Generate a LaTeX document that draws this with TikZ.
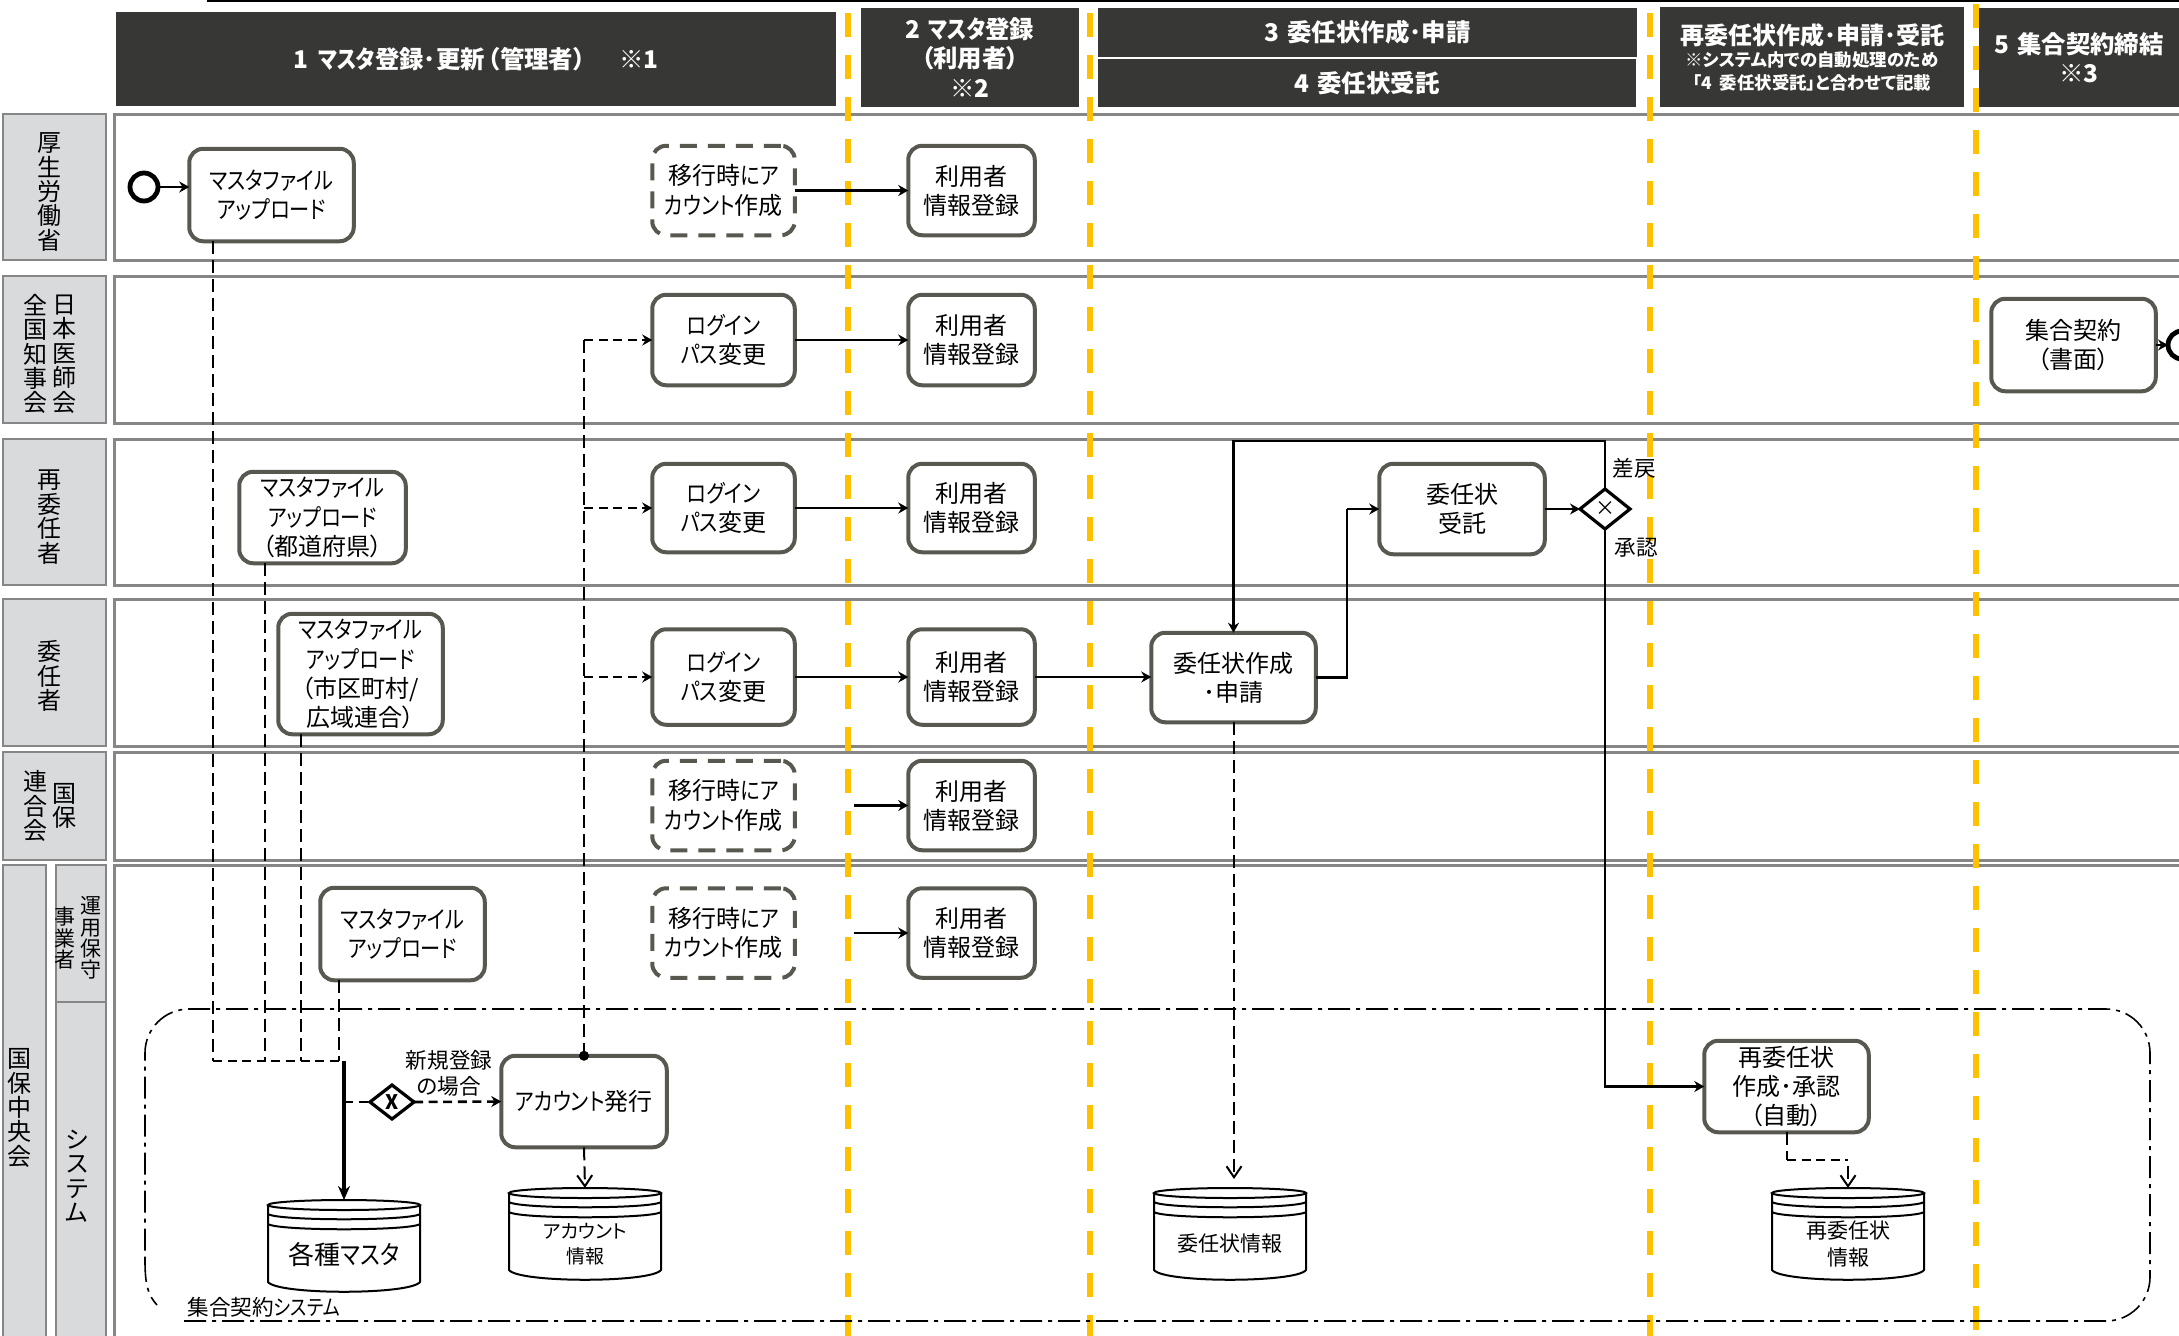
\documentclass[tikz,border=0pt]{standalone}
\usepackage{fontspec}
\setmainfont{Noto Sans CJK JP}[RawFeature={+palt}]
\newfontfamily\kn{Noto Sans CJK JP}[RawFeature={+palt},FakeStretch=0.84]
\newcommand\K[1]{{\kn #1}}
\usetikzlibrary{arrows.meta,shapes.geometric}
\newcommand\fs[2]{\fontsize{#1}{#2}\selectfont\lineskiplimit=-30pt\relax}
\definecolor{hdr}{HTML}{373735}
\definecolor{lanegray}{HTML}{868686}
\definecolor{lanefill}{HTML}{D9DADC}
\definecolor{boxline}{HTML}{595850}
\definecolor{ylw}{HTML}{FFC000}
\tikzset{
  x=0.5pt,y=-0.5pt,
  hd/.style={fill=hdr,draw=none,text=white,font=\fs{12.2}{14.6}\bfseries,align=center,inner sep=0pt,outer sep=0pt},
  hdt/.style={text=white,align=center,inner sep=0pt,outer sep=0pt},
  lane/.style={draw=lanegray,line width=1.5pt,fill=white},
  lanelbl/.style={draw=lanegray,line width=1.3pt,fill=lanefill},
  vt/.style={align=center,inner sep=0pt,font=\fs{12}{12.2}},
  vts/.style={align=center,inner sep=0pt,font=\fs{10.5}{10.6}},
  yl/.style={draw=ylw,line width=2.8pt,dash pattern=on 12pt off 9pt},
  task/.style={draw=boxline,line width=2pt,rounded corners=7pt,fill=white,align=center,inner sep=0pt,outer sep=0pt,font=\fs{12}{14.6}},
  taskd/.style={task,dash pattern=on 8.5pt off 5.5pt},
  evt/.style={circle,draw=black,line width=2.4pt,fill=white,minimum size=14pt,inner sep=0pt,outer sep=0pt},
  gate/.style={diamond,draw=black,line width=1.6pt,fill=white,inner sep=0pt,outer sep=0pt},
  flow/.style={draw=black,line width=1.2pt,-{Stealth[length=5pt,width=5.5pt]}},
  flown/.style={draw=black,line width=1.2pt},
  dv/.style={draw=black,line width=1pt,dash pattern=on 6.5pt off 3pt},
  dh/.style={draw=black,line width=1.3pt,dash pattern=on 4.5pt off 2.8pt},
  dhead/.style={-{Stealth[length=5pt,width=5.5pt]}},
  dopen/.style={-{Straight Barb[length=5.5pt,width=7.5pt]}},
  syst/.style={draw=black,line width=.8pt,dash pattern=on 11pt off 3pt on 2pt off 3pt},
  cylline/.style={draw=black,line width=1pt},
  cylbox/.style={draw=none,inner sep=0pt,outer sep=0pt,minimum width=76pt,minimum height=46pt},
  txt/.style={align=center,inner sep=0pt,font=\fs{10.8}{13}},
}
\newcommand\tb[7]{\node[#1,minimum width={(#5-0.5)*0.5pt},minimum height={(#6-1.5)*0.5pt}] (#2) at (#3,#4) {#7};}
\newcommand\hb[6]{\node[hd,minimum width={#4*0.5pt},minimum height={#5*0.5pt}] (#1) at (#2,#3) {#6};}
\newcommand\cyl[6]{%
  \begin{scope}[shift={(#2,#3)}]
    \node[cylbox] (#1) at (76,46) {};
    \draw[cylline] (0,5) -- (0,82) .. controls (10,95) and (142,95) .. (152,82) -- (152,5);
    \draw[cylline] (76,5) ellipse [x radius=76,y radius=5];
    \draw[cylline] (0,14) .. controls (10,21) and (142,21) .. (152,14);
    \draw[cylline] (0,24) .. controls (10,31) and (142,31) .. (152,24);
    \node[txt,font=#5] (#1t) at (76,#4) {#6};
  \end{scope}}
\begin{document}
\begin{tikzpicture}
\useasboundingbox (0,0) rectangle (2179,1335);
\clip (0,0) rectangle (2179,1335);
% top line
\draw[black,line width=1pt] (207,1) -- (2179,1);
% lanes
\draw[lane] (114,114) rectangle (2200,260);
\draw[lane] (114,276) rectangle (2200,423);
\draw[lane] (114,439) rectangle (2200,585);
\draw[lane] (114,599) rectangle (2200,746);
\draw[lane] (114,752) rectangle (2200,860);
\draw[lane] (114,865) rectangle (2200,1345);
\draw[lanelbl] (3,114) rectangle (106,260);
\draw[lanelbl] (3,276) rectangle (106,423);
\draw[lanelbl] (3,439) rectangle (106,585);
\draw[lanelbl] (3,599) rectangle (106,746);
\draw[lanelbl] (3,752) rectangle (106,860);
\draw[lanelbl] (3,865) rectangle (46,1345);
\draw[lanelbl] (56,865) rectangle (106,1002);
\draw[lanelbl] (56,1002) rectangle (106,1345);
% lane labels
\node[vt] (ln1) at (50,192) {厚\\生\\労\\働\\省};
\node[vt] (ln2a) at (65,354) {日\\本\\医\\師\\会};
\node[vt] (ln2b) at (36,354) {全\\国\\知\\事\\会};
\node[vt] (ln3) at (50,517) {再\\委\\任\\者};
\node[vt] (ln4) at (50,676) {委\\任\\者};
\node[vt] (ln5a) at (65,806) {国\\保};
\node[vt] (ln5b) at (36,806) {連\\合\\会};
\node[vt] (ln6) at (20,1108) {国\\保\\中\\央\\会};
\node[vts] (ln7a) at (91,938) {運\\用\\保\\守};
\node[vts] (ln7b) at (65,938) {事\\業\\者};
\node[vt] (ln8) at (77,1176) {シ\\ス\\テ\\ム};
% yellow phase lines
\draw[yl] (848,13) -- (848,1340);
\draw[yl] (1090,13) -- (1090,1340);
\draw[yl] (1650,13) -- (1650,1340);
\draw[yl] (1976,4) -- (1976,1340);
% headers
\hb{h1}{476}{59}{720}{94}{1\hspace{5pt}\K{マスタ}登録･更新\hspace{1.5pt}（管理者）\hspace{17pt}※1}
\hb{h2}{970}{57.5}{218}{99}{2\hspace{4pt}\K{マスタ}登録\\（利用者）\\※2}
\hb{h3}{1367.5}{32.5}{539}{49}{3\hspace{4pt}委任状作成･申請}
\hb{h4}{1367}{83}{538}{48}{4\hspace{4pt}委任状受託}
\hb{h5}{1812}{57}{304}{100}{}
\node[hdt,font=\fs{12}{14}\bfseries] (h5a) at (1812,35) {再委任状作成･申請･受託};
\node[hdt,font=\fs{8.7}{11}\bfseries] (h5b) at (1812,60) {※システム内での自動処理のため};
\node[hdt,font=\fs{8.7}{11}\bfseries] (h5c) at (1812,83) {「4\hspace{4pt}委任状受託」と合わせて記載};
\hb{h6}{2079}{57.5}{200}{99}{5\hspace{4pt}集合契約締結\\※3}
% system boundary
\draw[syst,rounded corners=22pt] (184,1321) -- (2150,1321) -- (2150,1009) -- (145,1009) -- (145,1260);
\draw[syst] (145,1260) .. controls (145,1285) and (148,1295) .. (157,1305);
\node[txt,anchor=west] (sys) at (187,1307) {集合契約\K{システム}};
% tasks
\tb{task}{m1}{271.5}{195}{165}{94}{\K{マスタファイル}\\\K{アップロード}}
\tb{taskd}{p1}{723.5}{190.5}{143}{91}{移行時\K{にア}\\\K{カウント}作成}
\tb{task}{u1}{971.5}{190.5}{127}{91}{利用者\\情報登録}
\tb{task}{l2}{723.5}{340}{143}{92}{\K{ログイン}\\\K{パス}変更}
\tb{task}{u2}{971.5}{340}{127}{92}{利用者\\情報登録}
\tb{task}{kei}{2073.5}{345}{165}{94}{集合契約\\（書面）}
\tb{task}{l3}{723.5}{508}{143}{90}{\K{ログイン}\\\K{パス}変更}
\tb{task}{u3}{971.5}{508}{127}{90}{利用者\\情報登録}
\tb{task}{m3}{322.5}{517.5}{167}{93}{\K{マスタファイル}\\\K{アップロード}\\（都道府県）}
\tb{task}{ju}{1462}{509}{166}{92}{委任状\\受託}
\tb{task}{m4}{360.5}{674}{165}{122}{\K{マスタファイル}\\\K{アップロード}\\（市区町村/\\広域連合）}
\tb{task}{l4}{723.5}{677}{143}{97}{\K{ログイン}\\\K{パス}変更}
\tb{task}{u4}{971.5}{677}{127}{97}{利用者\\情報登録}
\tb{task}{app}{1233.5}{677.5}{165}{91}{委任状作成\\･申請}
\tb{taskd}{p5}{723.5}{805.5}{143}{91}{移行時\K{にア}\\\K{カウント}作成}
\tb{task}{u5}{971.5}{805.5}{127}{91}{利用者\\情報登録}
\tb{task}{m6}{402.5}{934}{165}{94}{\K{マスタファイル}\\\K{アップロード}}
\tb{taskd}{p6}{723.5}{933}{143}{91}{移行時\K{にア}\\\K{カウント}作成}
\tb{task}{u6}{971.5}{933}{127}{91}{利用者\\情報登録}
\tb{task}{iss}{584}{1101.5}{166}{93}{\K{アカウント}発行}
\tb{task}{re}{1786.5}{1086.5}{165}{93}{再委任状\\作成･承認\\（自動）}
% events and gateways
\node[evt] (st) at (144,187) {};
\node[evt] (en) at (2182,345) {};
\node[gate,minimum width=22pt,minimum height=17pt,aspect=1.3,font=\fs{10}{10}\bfseries] (g1) at (392,1102) {X};
\node[gate,minimum width=25pt,minimum height=20pt,aspect=1.25,font=\fs{10}{10}] (g2) at (1605,509) {×};
% data stores
\cyl{c1}{268}{1200}{55}{\fs{13}{16}}{各種\K{マスタ}}
\cyl{c2}{509}{1188}{56}{\fs{9.5}{12.5}}{アカウント\\情報}
\cyl{c3}{1154}{1188}{56}{\fs{10.5}{13}}{委任状情報}
\cyl{c4}{1772}{1188}{56}{\fs{10.5}{13.5}}{再委任状\\情報}
% helper coordinates
\coordinate (j) at (344,1061);
\coordinate (j1) at (213,1061);
\coordinate (j3) at (265,1061);
\coordinate (j4) at (301,1061);
\coordinate (j6) at (339,1061);
\coordinate (jg) at (344,1102);
\coordinate (s5) at (854,805.5);
\coordinate (s6) at (854,933);
\coordinate (b1) at (1347,509);
\coordinate (r1) at (1605,441);
\coordinate (ap) at (1234,1179);
\coordinate (rb) at (1787,1160);
\coordinate (rc) at (1848,1160);
\coordinate (rd) at (1848,1166);
% solid flows
\draw[flow] (st.east) -- (st.east -| m1.west);
\draw[flow] (p1.east) -- (u1.west);
\draw[flow] (l2.east) -- (u2.west);
\draw[flow] (l3.east) -- (u3.west);
\draw[flow] (l4.east) -- (u4.west);
\draw[flow] (s5) -- (u5.west);
\draw[flow] (s6) -- (u6.west);
\draw[flow] (u4.east) -- (u4.east -| app.west);
\draw[flown] (app.east) -| (b1);
\draw[flow] (b1) -- (ju.west);
\draw[flow] (ju.east) -- (g2.west);
\draw[flow] (g2.north) -- (r1) -- (r1 -| app.north) -- (app.north);
\draw[flow] (g2.south) |- (re.west);
\draw[flow] (kei.east) -- (en.west);
% master file dashed flows
\draw[dv] (j1 |- m1.south) -- (j1);
\draw[dv] (j3 |- m3.south) -- (j3);
\draw[dv] (j4 |- m4.south) -- (j4);
\draw[dv] (j6 |- m6.south) -- (j6);
\draw[dh] (j1) -- (j);
\draw[flow,line width=1.6pt,-{Stealth[length=7pt,width=6pt]}] (j) -- (j -| c1.north) -- (c1.north);
\draw[dh] (jg) -- (g1.west);
\draw[dh,dhead] (g1.east) -- (iss.west);
% account flows
\draw[dv] (iss.north) -- (iss.north |- l2.west);
\draw[dh,dhead] (iss.north |- l2.west) -- (l2.west);
\draw[dh,dhead] (iss.north |- l3.west) -- (l3.west);
\draw[dh,dhead] (iss.north |- l4.west) -- (l4.west);
\fill[black] (iss.north) circle (5);
\draw[dv,dopen] (iss.south) -- (c2.north);
\draw[dv,dopen] (app.south -| ap) -- (ap);
\draw[dv] (re.south -| rb) -- (rb);
\draw[dh] (rb) -- (rc);
\draw[dv,dopen] (rd) -- (c4.north);
% labels
\node[txt] (t1) at (449,1073.5) {新規登録\\の場合};
\node[txt] (t2) at (1634,468) {差戻};
\node[txt] (t3) at (1636,548) {承認};
\end{tikzpicture}
\end{document}
